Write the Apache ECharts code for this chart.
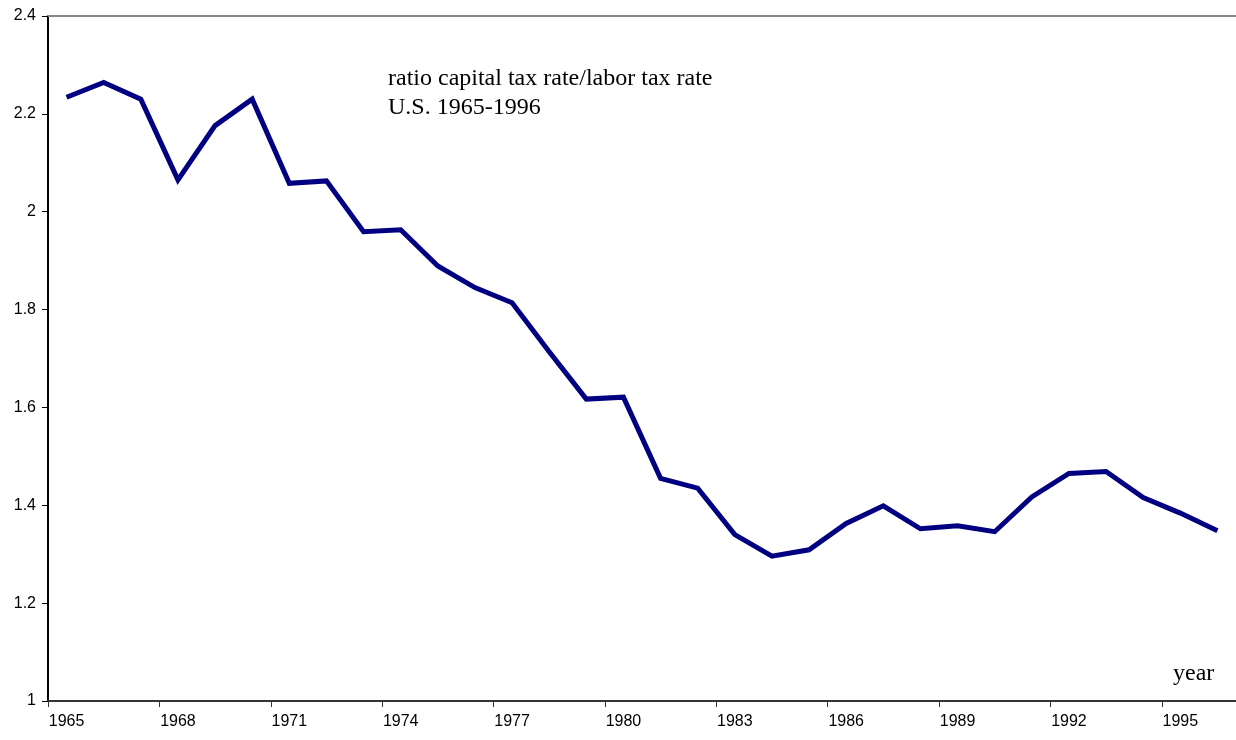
<!DOCTYPE html>
<html>
<head>
<meta charset="utf-8">
<script src="https://cdn.jsdelivr.net/npm/echarts@6/dist/echarts.min.js"></script>
<style>
  html, body { margin: 0; padding: 0; background: #fff; }
  #chart { width: 1236px; height: 740px; }
</style>
</head>
<body>
<div id="chart"></div>
<script>
// years on the x axis
var years = ['1965','1966','1967','1968','1969','1970','1971','1972','1973','1974',
  '1975','1976','1977','1978','1979','1980','1981','1982','1983','1984','1985',
  '1986','1987','1988','1989','1990','1991','1992','1993','1994','1995','1996'];

// ratio capital tax rate / labor tax rate
var ratio = [2.234, 2.264, 2.230, 2.065, 2.176, 2.230, 2.058, 2.063, 1.959, 1.963,
  1.889, 1.845, 1.814, 1.714, 1.617, 1.621, 1.455, 1.435, 1.340, 1.296, 1.309,
  1.363, 1.399, 1.352, 1.358, 1.346, 1.417, 1.465, 1.469, 1.416, 1.384, 1.348];

var chart = echarts.init(document.getElementById('chart'));

var option = {
  animation: false,
  backgroundColor: '#fff',
  grid: { left: 48, right: 0, top: 16, bottom: 39 },
  graphic: [
    {
      type: 'text', left: 388, top: 64,
      style: {
        text: 'ratio capital tax rate/labor tax rate\nU.S. 1965-1996',
        font: '24px "Liberation Serif"', fill: '#000', lineHeight: 29
      }
    },
    {
      type: 'text', left: 1173, top: 662,
      style: { text: 'year', font: '24px "Liberation Serif"', fill: '#000' }
    }
  ],
  xAxis: [
    {
      type: 'category',
      data: years,
      boundaryGap: true,
      axisLine: { lineStyle: { color: '#333', width: 2 } },
      axisTick: { show: true, interval: 2, length: 6, lineStyle: { color: '#333', width: 1 } },
      axisLabel: {
        interval: 2, margin: 13, color: '#000', fontSize: 16,
        fontFamily: 'Liberation Sans'
      },
      splitLine: { show: false }
    },
    {
      type: 'category',
      data: years,
      position: 'top',
      axisLine: { lineStyle: { color: '#888', width: 2 } },
      axisTick: { show: false },
      axisLabel: { show: false }
    }
  ],
  yAxis: {
    type: 'value',
    min: 1,
    max: 2.4,
    interval: 0.2,
    axisLine: { show: true, lineStyle: { color: '#000', width: 2 } },
    axisTick: { show: true, length: 6, lineStyle: { color: '#000' } },
    axisLabel: {
      margin: 12, color: '#000', fontSize: 16, fontFamily: 'Liberation Sans',
      formatter: function (v) { return String(Math.round(v * 10) / 10); }
    },
    splitLine: { show: false }
  },
  series: [
    {
      type: 'line',
      data: ratio,
      showSymbol: false,
      lineStyle: { color: '#000080', width: 5, join: 'miter' },
      itemStyle: { color: '#000080' }
    }
  ]
};

chart.setOption(option);
</script>
</body>
</html>
